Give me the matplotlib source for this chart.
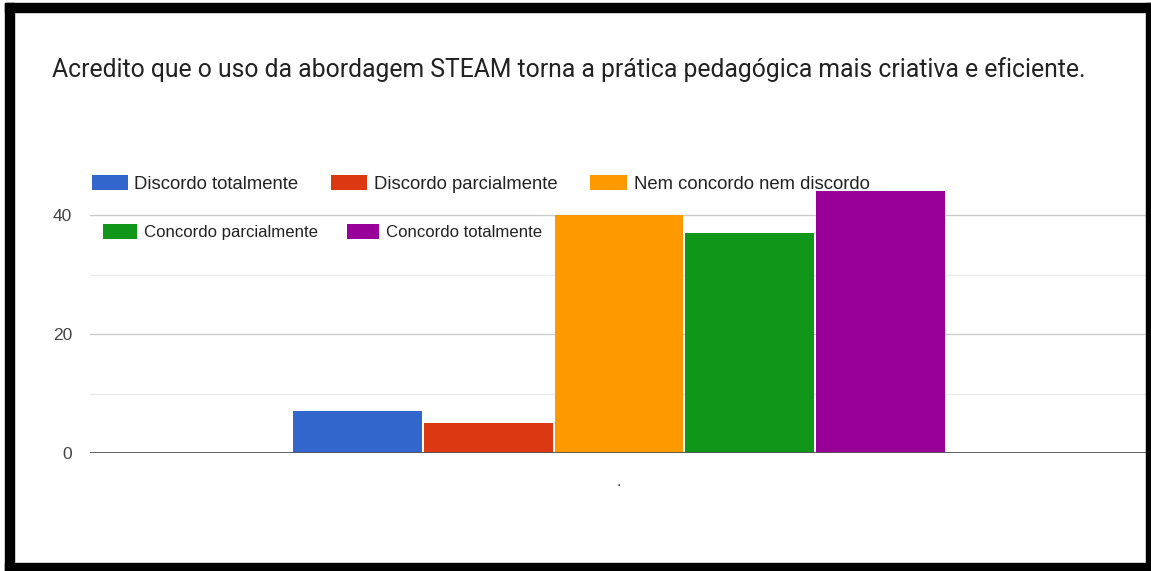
import matplotlib.pyplot as plt
from matplotlib.patches import Rectangle
import numpy as np

# data
categories = ["Discordo totalmente", "Discordo parcialmente", "Nem concordo nem discordo",
              "Concordo parcialmente", "Concordo totalmente"]
values = [7, 5, 40, 37, 44]
colors = ["#3366cc", "#dc3912", "#ff9900", "#109618", "#990099"]
yticks = [0, 20, 40]
title = "Acredito que o uso da abordagem STEAM torna a prática pedagógica mais criativa e eficiente."

W, H = 1151, 571
fig = plt.figure(figsize=(W / 100, H / 100), dpi=100)
ax = fig.add_axes([90 / W, 118 / H, 1058 / W, 285.6 / H])

step = 0.1238
bar_w = 0.1219
offsets = (np.arange(len(values)) - (len(values) - 1) / 2) * step
bars = []
for off, v, c, lab in zip(offsets, values, colors, categories):
    b = ax.bar(off, v, width=bar_w, color=c, label=lab, zorder=3)
    bars.append(b)

ax.set_xlim(-0.5, 0.5)
ax.set_ylim(0, 48)
ax.set_yticks(yticks)
ax.set_yticks([10, 30], minor=True)
ax.grid(axis="y", which="major", color="#cccccc", linewidth=1, zorder=0)
ax.grid(axis="y", which="minor", color="#ebebeb", linewidth=1, zorder=0)
ax.axhline(0, color="#555555", linewidth=1.3, zorder=4)
ax.set_xticks([0])
ax.set_xticklabels(["."], fontsize=10, color="#222222")
ax.tick_params(axis="x", length=0, pad=16)
ax.tick_params(axis="y", which="both", length=0, pad=13, labelsize=12.5, labelcolor="#444444")
for lbl in ax.get_yticklabels():
    lbl.set_fontfamily("Liberation Sans")
for s in ax.spines.values():
    s.set_visible(False)

fig.text(52 / W, 1 - 69.5 / H, title, fontsize=17.85, family="Roboto", color="#222222",
         va="center", ha="left")

# legend entries, placed like the original (two uneven rows)
# (patch left px, centre y px, font pt, patch w px, patch h px)
leg_pos = [(92, 184, 13.3, 36, 17), (331, 184, 13.3, 36, 17), (590, 184, 13.3, 37, 17),
           (103, 232, 12.1, 34, 17), (347, 232, 12.1, 32, 17)]
for b, lab, (lx, ly, fs, pw, ph) in zip(bars, categories, leg_pos):
    fpx = fs * 100 / 72
    leg = fig.legend([b.patches[0]], [lab], frameon=False,
                     prop={"family": "Liberation Sans", "size": fs},
                     handlelength=pw / fpx, handleheight=ph / fpx, handletextpad=6.5 / fpx,
                     borderpad=0, borderaxespad=0, loc="center left",
                     bbox_to_anchor=(lx / W, 1 - ly / H))
    leg.get_texts()[0].set_color("#222222")

# black frame around the screenshot
for (x0, y0, w, h) in [(5, 3, 9, 568), (5, 3, 1146, 9), (1146, 3, 5, 568), (5, 563, 1146, 8)]:
    fig.patches.append(Rectangle((x0 / W, 1 - (y0 + h) / H), w / W, h / H,
                                 transform=fig.transFigure, color="black", zorder=10))

fig.savefig("out.png", dpi=100)
